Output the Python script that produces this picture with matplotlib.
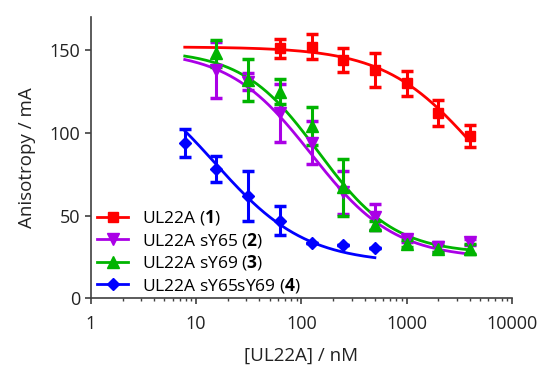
import numpy as np
import matplotlib
matplotlib.use('Agg')
import matplotlib.pyplot as plt

plt.rcParams['font.family'] = ['Open Sans', 'DejaVu Sans']
plt.rcParams['mathtext.fontset'] = 'custom'
plt.rcParams['mathtext.rm'] = 'Open Sans'
plt.rcParams['mathtext.bf'] = 'Open Sans:bold'

# concentrations (nM), two-fold dilution series
conc = [7.8, 15.6, 31.25, 62.5, 125, 250, 500, 1000, 2000, 4000]

# UL22A (1)
wt_x = [62.5, 125, 250, 500, 1000, 2000, 4000]
wt_y = [151, 152, 144, 138, 130, 112, 98]
wt_err = [6, 7.5, 7, 10, 7.5, 8, 6.5]

# UL22A sY65 (2)
y65_x = [15.6, 31.25, 62.5, 125, 250, 500, 1000, 2000, 4000]
y65_y = [138, 131, 112, 94, 64, 49, 36, 31, 34]
y65_err = [17, 5, 17.5, 13, 13, 8, 2, 3, 2]

# UL22A sY69 (3)
y69_x = [15.6, 31.25, 62.5, 125, 250, 500, 1000, 2000, 4000]
y69_y = [148, 132, 125, 104, 67, 44, 33, 30, 30]
y69_err = [8, 12.5, 7.5, 11.5, 17, 3, 2, 2, 3]

# UL22A sY65sY69 (4)
dbl_x = [7.8, 15.6, 31.25, 62.5, 125, 250, 500]
dbl_y = [94, 78, 62, 47, 33.5, 32, 30.5]
dbl_err = [8.5, 8, 15, 8.5, 0, 0, 0]

# fitted dose-response parameters: top, bottom, IC50 (nM), hill slope, fit range
fits = {
    'wt': [152, 30, 4545, 1.0, 7.8, 4000],
    'y65': [150, 24, 125, 1.1, 7.8, 4000],
    'y69': [150, 27, 145, 1.2, 7.8, 4000],
    'dbl': [143, 21, 15, 1.0, 7.8, 500],
}

series = [
    ('wt', wt_x, wt_y, wt_err, '#ff0000', 's', 7, r'UL22A ($\mathbf{1}$)'),
    ('y65', y65_x, y65_y, y65_err, '#aa00e6', 'v', 8, r'UL22A sY65 ($\mathbf{2}$)'),
    ('y69', y69_x, y69_y, y69_err, '#00b400', '^', 8, r'UL22A sY69 ($\mathbf{3}$)'),
    ('dbl', dbl_x, dbl_y, dbl_err, '#0000ff', 'D', 6, r'UL22A sY65sY69 ($\mathbf{4}$)'),
]


def dose_response(x, top, bottom, ic50, hill):
    return bottom + (top - bottom) / (1 + (x / ic50) ** hill)


fig = plt.figure(figsize=(5.41, 3.71), dpi=100)
ax = fig.add_axes([0.168, 0.196, 0.778, 0.758])

handles = []
for key, xs, ys, errs, col, mk, ms, lab in series:
    top, bottom, ic50, hill, x0, x1 = fits[key]
    xf = np.logspace(np.log10(x0), np.log10(x1), 300)
    ax.plot(xf, dose_response(xf, top, bottom, ic50, hill), color=col, lw=2, zorder=2)
    ax.errorbar(xs, ys, yerr=errs, fmt=mk, color=col, ms=ms, elinewidth=2.2,
                capsize=4, capthick=2.5, zorder=3)
    h, = ax.plot([], [], color=col, lw=2, marker=mk, ms=ms, label=lab)
    handles.append(h)

ax.set_xscale('log')
ax.set_xlim(1, 10000)
ax.set_ylim(0, 170)
ax.set_yticks([0, 50, 100, 150])
ax.set_xticks([1, 10, 100, 1000, 10000])
ax.set_xticklabels(['1', '10', '100', '1000', '10000'])

for s in ['top', 'right']:
    ax.spines[s].set_visible(False)
for s in ['left', 'bottom']:
    ax.spines[s].set_color('#404040')
    ax.spines[s].set_linewidth(1.2)
ax.tick_params(which='major', length=4, width=1.2, color='#404040', labelsize=13,
               labelcolor='#222222')
ax.tick_params(axis='x', which='major', pad=8)
ax.tick_params(which='minor', length=2.5, width=1.0, color='#404040')

ax.set_xlabel('[UL22A] / nM', fontsize=13.5, color='#222222', labelpad=10)
ax.set_ylabel('Anisotropy / mA', fontsize=13.5, color='#222222', labelpad=10)

ax.legend(handles=handles, loc='lower left', bbox_to_anchor=(-0.01, -0.025),
          frameon=False, fontsize=12.5, handlelength=1.8, handletextpad=0.8,
          labelspacing=0.2, borderaxespad=0.2)

fig.savefig('out.png', dpi=100)
